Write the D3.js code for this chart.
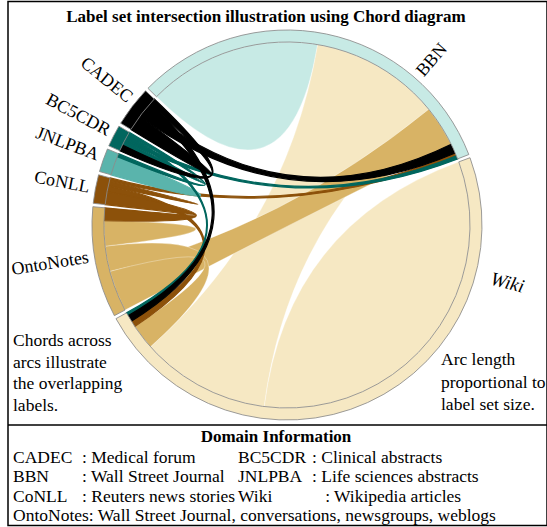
<!DOCTYPE html>
<html>
<head>
<meta charset="utf-8">
<script src="https://cdnjs.cloudflare.com/ajax/libs/d3/7.8.5/d3.min.js"></script>
<style>
  body { margin: 0; background: #ffffff; }
  text { font-family: "Liberation Serif", "Times New Roman", serif; fill: #000; }
</style>
</head>
<body>
<script>

// groups, clockwise from the top
var names = ['BBN', 'Wiki', 'OntoNotes', 'CoNLL', 'JNLPBA', 'BC5CDR', 'CADEC'];
var colors = ['#c7eae5', '#f6e8c3', '#d8b365', '#8c510a', '#5ab4ac', '#01665e', '#000000'];

// label overlap between data sets (rows / cols follow names)
var matrix = [
    [55, 41,  13, 1,   0, 1,   3],
    [41, 117, 8,  2,   0, 1,   2],
    [13, 8,   8,  4,   0, 0,   0],
    [1,  2,   4,  1.5, 0, 0,   0],
    [0,  0,   0,  0,   6, 1,   0],
    [1,  1,   0,  0,   1, 1.5, 2],
    [3,  2,   0,  0,   0, 2,   5]
];

var title = 'Label set intersection illustration using Chord diagram';
var leftNote = ['Chords across', 'arcs illustrate', 'the overlapping', 'labels.'];
var rightNote = ['Arc length', 'proportional to', 'label set size.'];

var domainTitle = 'Domain Information';
var domainRows = [
    ['CADEC', ': Medical forum', 'BC5CDR', ': Clinical abstracts'],
    ['BBN', ': Wall Street Journal', 'JNLPBA', ': Life sciences abstracts'],
    ['CoNLL', ': Reuters news stories', 'Wiki', '   : Wikipedia articles']
];
var domainLast = 'OntoNotes: Wall Street Journal, conversations, newsgroups, weblogs';

var width = 547,
    height = 527,
    cx = 287,
    cy = 225,
    outerRadius = 195,
    innerRadius = 183,
    rotation = -45.5,
    labelRadius = 201,
    // where each name sits, degrees clockwise from the top
    labelAngles = [41, 104.5, 261, 281, 290.5, 298, 309];

var svg = d3.select('body')
    .append('svg')
    .attr('width', width)
    .attr('height', height);

// frame
svg.append('rect')
    .attr('x', 8)
    .attr('y', 1.5)
    .attr('width', width - 8)
    .attr('height', height - 3)
    .attr('fill', 'none')
    .attr('stroke', '#000')
    .attr('stroke-width', 1.5);

svg.append('line')
    .attr('x1', 8).attr('x2', width)
    .attr('y1', 425).attr('y2', 425)
    .attr('stroke', '#000')
    .attr('stroke-width', 1.5);

svg.append('text')
    .attr('x', 266)
    .attr('y', 22)
    .attr('text-anchor', 'middle')
    .attr('font-size', '17px')
    .attr('font-weight', 'bold')
    .text(title);

var chords = d3.chord()
    .padAngle(0.0175)
    .sortSubgroups(d3.descending)(matrix);

var arc = d3.arc()
    .innerRadius(innerRadius)
    .outerRadius(outerRadius);

var ribbon = d3.ribbon()
    .radius(innerRadius);

// a chord takes the colour of its later group in names order
var colorIndex = function(d) {
    return Math.max(d.source.index, d.target.index);
};

var plot = svg.append('g')
    .attr('transform', 'translate(' + cx + ',' + cy + ') rotate(' + rotation + ')');

// thin chords get a stroke of their own colour so they keep some body
plot.append('g')
    .selectAll('path')
    .data(chords.slice().sort(function(a, b) { return colorIndex(a) - colorIndex(b); }))
    .enter()
    .append('path')
    .attr('d', ribbon)
    .attr('fill', function(d) { return colors[colorIndex(d)]; })
    .attr('stroke', function(d) { return colorIndex(d) > 2 ? colors[colorIndex(d)] : '#ffffff'; })
    .attr('stroke-width', function(d) { return colorIndex(d) > 2 ? 1.2 : 0.3; });

plot.append('g')
    .selectAll('path')
    .data(chords.groups)
    .enter()
    .append('path')
    .attr('d', arc)
    .attr('fill', function(d) { return colors[d.index]; })
    .attr('stroke', '#8a8a8a')
    .attr('stroke-width', 0.8);

// radial names
svg.append('g')
    .selectAll('text')
    .data(names)
    .enter()
    .append('text')
    .attr('transform', function(d, i) {
        var a = labelAngles[i],
            r = d === 'Wiki' ? labelRadius + 10 : labelRadius,
            rad = a * Math.PI / 180,
            x = cx + r * Math.sin(rad),
            y = cy - r * Math.cos(rad),
            rot = a < 180 ? a - 90 : a - 270;
        return 'translate(' + x + ',' + y + ') rotate(' + rot + ')';
    })
    .attr('text-anchor', function(d, i) { return labelAngles[i] < 180 ? 'start' : 'end'; })
    .attr('dy', '0.35em')
    .attr('font-size', function(d) { return d === 'Wiki' ? '19px' : '18px'; })
    .style('font-style', function(d) { return d === 'Wiki' ? 'italic' : 'normal'; })
    .text(function(d) { return d; });

svg.append('g')
    .selectAll('text')
    .data(leftNote)
    .enter()
    .append('text')
    .attr('x', 13)
    .attr('y', function(d, i) { return 346 + i * 21.5; })
    .attr('font-size', '17.5px')
    .text(function(d) { return d; });

svg.append('g')
    .selectAll('text')
    .data(rightNote)
    .enter()
    .append('text')
    .attr('x', 441)
    .attr('y', function(d, i) { return 365 + i * 22.5; })
    .attr('font-size', '17.5px')
    .text(function(d) { return d; });

// domain information box
svg.append('text')
    .attr('x', 276)
    .attr('y', 442)
    .attr('text-anchor', 'middle')
    .attr('font-size', '17px')
    .attr('font-weight', 'bold')
    .text(domainTitle);

var colX = [13, 82, 238, 312];

var rows = svg.append('g')
    .selectAll('g')
    .data(domainRows)
    .enter()
    .append('g')
    .attr('transform', function(d, i) { return 'translate(0,' + (463 + i * 19.3) + ')'; });

rows.selectAll('text')
    .data(function(d) { return d; })
    .enter()
    .append('text')
    .attr('x', function(d, i) { return colX[i]; })
    .attr('font-size', '17.5px')
    .style('white-space', 'pre')
    .text(function(d) { return d; });

svg.append('text')
    .attr('x', 13)
    .attr('y', 521)
    .attr('font-size', '17.5px')
    .text(domainLast);

</script>
</body>
</html>
